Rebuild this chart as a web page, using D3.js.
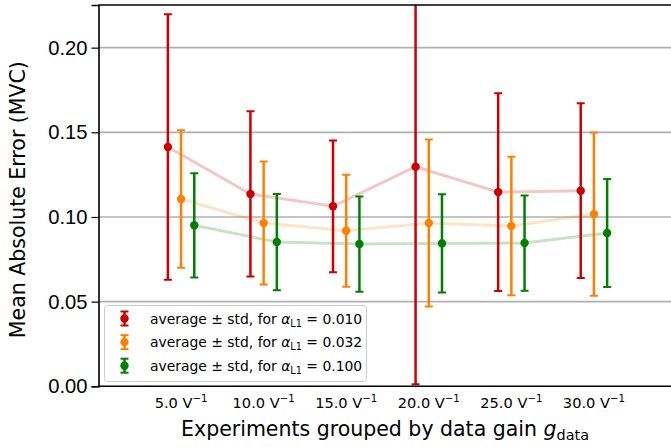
<!DOCTYPE html>
<html>
<head>
<meta charset="utf-8">
<script src="https://cdn.jsdelivr.net/npm/d3@7"></script>
<style>
  body { margin: 0; background: #fff; }
  svg { font-family: "DejaVu Sans", sans-serif; display: block; }
</style>
</head>
<body>
<svg id="chart"></svg>
<script>
// data gain groups (V^-1)
var gains = ["5.0", "10.0", "15.0", "20.0", "25.0", "30.0"];
var alphas = ["0.010", "0.032", "0.100"];
var colors = ["#cc0000", "#ff8000", "#008000"];

// mean absolute error per alpha
var meanA = [0.1413, 0.1136, 0.1063, 0.1297, 0.1147, 0.1155];
var meanB = [0.1106, 0.0964, 0.0919, 0.0964, 0.0947, 0.1017];
var meanC = [0.0951, 0.0852, 0.0840, 0.0844, 0.0846, 0.0905];
// standard deviations
var stdA = [0.0784, 0.0488, 0.0389, 0.1285, 0.0584, 0.0516];
var stdB = [0.0406, 0.0363, 0.0331, 0.0493, 0.0409, 0.0482];
var stdC = [0.0308, 0.0284, 0.0281, 0.0290, 0.0281, 0.0319];

var yTicks = [0, 0.05, 0.10, 0.15, 0.20];

var width = 671, height = 447;
var margin = { top: 5, left: 98.5 };
var plotRight = 676.5, plotBottom = 386.3;

var svg = d3.select("#chart").attr("width", width).attr("height", height);

var x = d3.scaleLinear().domain([-1, 6]).range([margin.left, plotRight]);
var y = d3.scaleLinear().domain([0, 0.2252]).range([plotBottom, margin.top]);
var offsets = [-13.2, 0, 13.2];

svg.append("defs").append("clipPath").attr("id", "clip")
  .append("rect").attr("x", margin.left).attr("y", margin.top)
  .attr("width", plotRight - margin.left).attr("height", plotBottom - margin.top);

// grid
svg.append("g").selectAll("line").data(yTicks.slice(1)).enter().append("line")
  .attr("x1", margin.left).attr("x2", plotRight)
  .attr("y1", function (d) { return y(d); }).attr("y2", function (d) { return y(d); })
  .attr("stroke", "#b0b0b0").attr("stroke-width", 1.6);

var series = [
  { mean: meanA, std: stdA },
  { mean: meanB, std: stdB },
  { mean: meanC, std: stdC }
];

var plot = svg.append("g").attr("clip-path", "url(#clip)");

// faint connecting lines
series.forEach(function (s, k) {
  var line = d3.line()
    .x(function (d, i) { return x(i) + offsets[k]; })
    .y(function (d) { return y(d); });
  plot.append("path").datum(s.mean).attr("d", line)
    .attr("fill", "none").attr("stroke", colors[k])
    .attr("stroke-width", 3).attr("stroke-opacity", 0.22);
});

// error bars
series.forEach(function (s, k) {
  var g = plot.append("g");
  s.mean.forEach(function (m, i) {
    var cx = x(i) + offsets[k];
    var lo = y(m - s.std[i]), hi = y(m + s.std[i]);
    g.append("line").attr("x1", cx).attr("x2", cx).attr("y1", lo).attr("y2", hi)
      .attr("stroke", colors[k]).attr("stroke-width", 2.5);
    [lo, hi].forEach(function (yy) {
      g.append("line").attr("x1", cx - 4).attr("x2", cx + 4).attr("y1", yy).attr("y2", yy)
        .attr("stroke", colors[k]).attr("stroke-width", 2);
    });
    g.append("circle").attr("cx", cx).attr("cy", y(m)).attr("r", 4.2).attr("fill", colors[k]);
  });
});

// spines
svg.append("line").attr("x1", margin.left).attr("x2", plotRight)
  .attr("y1", margin.top).attr("y2", margin.top).attr("stroke", "#000").attr("stroke-width", 1.6);
svg.append("line").attr("x1", margin.left).attr("x2", plotRight)
  .attr("y1", plotBottom).attr("y2", plotBottom).attr("stroke", "#000").attr("stroke-width", 1.6);

// y axis
var yAxis = d3.axisLeft(y).tickValues(yTicks).tickFormat(d3.format(".2f")).tickSize(7).tickPadding(4);
var ya = svg.append("g").attr("transform", "translate(" + margin.left + ",0)").call(yAxis);
ya.select(".domain").attr("stroke-width", 1.6);
ya.selectAll(".tick line").attr("stroke-width", 1.2);
ya.selectAll(".tick text").attr("font-size", 20.2).attr("fill", "#000");

// x tick labels
var xa = svg.append("g");
gains.forEach(function (gv, i) {
  var t = xa.append("text").attr("x", x(i)).attr("y", 408).attr("text-anchor", "middle")
    .attr("font-size", 14.6).attr("fill", "#000");
  t.append("tspan").text(gv + " V");
  t.append("tspan").attr("dy", -6).attr("font-size", 10.2).text("\u22121");
});

// axis labels
var xl = svg.append("text").attr("x", 385).attr("y", 436).attr("text-anchor", "middle")
  .attr("font-size", 20.5).attr("fill", "#000");
xl.append("tspan").text("Experiments grouped by data gain ");
xl.append("tspan").attr("font-style", "italic").text("g");
xl.append("tspan").attr("dy", 4).attr("font-size", 14.4).text("data");

svg.append("text").attr("transform", "translate(25," + ((margin.top + plotBottom) / 2 + 4) + ") rotate(-90)")
  .attr("text-anchor", "middle").attr("font-size", 20.5).attr("fill", "#000")
  .text("Mean Absolute Error (MVC)");

// legend
var lg = svg.append("g");
lg.append("rect").attr("x", 104.5).attr("y", 305.5).attr("width", 262).attr("height", 76)
  .attr("rx", 3).attr("fill", "#fff").attr("fill-opacity", 0.85)
  .attr("stroke", "#cccccc").attr("stroke-width", 1);
alphas.forEach(function (a, k) {
  var cy = 318.5 + k * 23.6;
  lg.append("line").attr("x1", 124.5).attr("x2", 124.5).attr("y1", cy - 7).attr("y2", cy + 7)
    .attr("stroke", colors[k]).attr("stroke-width", 2.5);
  [cy - 7, cy + 7].forEach(function (yy) {
    lg.append("line").attr("x1", 120.5).attr("x2", 128.5).attr("y1", yy).attr("y2", yy)
      .attr("stroke", colors[k]).attr("stroke-width", 2);
  });
  lg.append("circle").attr("cx", 124.5).attr("cy", cy).attr("r", 4.2).attr("fill", colors[k]);
  var t = lg.append("text").attr("x", 150).attr("y", cy + 5).attr("font-size", 13.9).attr("fill", "#000");
  t.append("tspan").text("average \u00b1 std, for ");
  t.append("tspan").attr("font-style", "italic").text("\u03b1");
  t.append("tspan").attr("dy", 3).attr("font-size", 9.7).text("L1");
  t.append("tspan").attr("dy", -3).text(" = " + a);
});
</script>
</body>
</html>
